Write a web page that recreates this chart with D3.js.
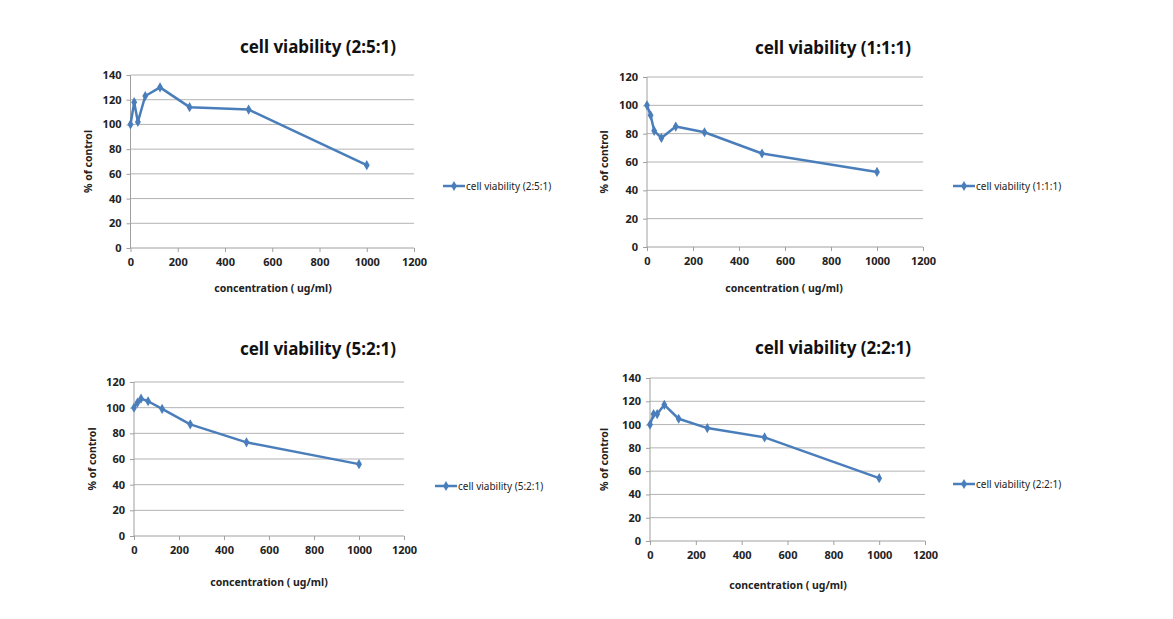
<!DOCTYPE html>
<html><head><meta charset="utf-8">
<script src="https://cdn.jsdelivr.net/npm/d3@7"></script>
<style>body{margin:0;background:#fff}svg{display:block}text{font-family:"Malgun Gothic","Noto Sans","DejaVu Sans",sans-serif}</style>
</head><body>
<script>
const concentrations = [0, 15.6, 31.25, 62.5, 125, 250, 500, 1000];
const xTicks = [0, 200, 400, 600, 800, 1000, 1200];
const titles = ["cell viability (2:5:1)", "cell viability (1:1:1)", "cell viability (5:2:1)", "cell viability (2:2:1)"];
const values_251 = [100, 118, 102, 123, 130, 114, 112, 67];
const values_111 = [100, 93, 82, 77, 85, 81, 66, 53];
const values_521 = [100, 104, 107, 105, 99, 87, 73, 56];
const values_221 = [100, 109, 109, 117, 105, 97, 89, 54];
const yMax = [140, 120, 120, 140];
const xLabel = "concentration ( ug/ml)";
const yLabel = "% of control";

const series = [values_251, values_111, values_521, values_221];
const layout = [
  {x0:130.5, x1:414, y0:248, y1:75, tx:318, ty:53, lx:443, ly:186, xlx:273, xly:292, ylx:92},
  {x0:647, x1:923, y0:247, y1:77, tx:833, ty:54, lx:953, ly:186, xlx:784, xly:292, ylx:608},
  {x0:134, x1:404, y0:536, y1:382, tx:318, ty:355, lx:435, ly:486, xlx:269, xly:586, ylx:96},
  {x0:650, x1:925, y0:541, y1:378, tx:833, ty:354, lx:953, ly:484, xlx:788, xly:589, ylx:608}
];

const W = 1173, H = 619;
const svg = d3.select("body").append("svg").attr("width", W).attr("height", H);

const color = "#4a7ebb";
const diamond = d3.symbol().type(d3.symbolDiamond).size(30);

series.forEach((vals, i) => {
  const L = layout[i];
  const g = svg.append("g");
  const x = d3.scaleLinear().domain([0, 1200]).range([L.x0, L.x1]);
  const y = d3.scaleLinear().domain([0, yMax[i]]).range([L.y0, L.y1]);
  const yTicks = d3.range(0, yMax[i] + 1, 20);

  g.selectAll(".grid").data(yTicks.filter(t => t > 0)).join("line")
    .attr("x1", L.x0).attr("x2", L.x1)
    .attr("y1", d => y(d)).attr("y2", d => y(d))
    .attr("stroke", "#b3b3b3").attr("stroke-width", 1);

  const xAxis = g.append("g").attr("transform", `translate(0,${L.y0})`)
    .call(d3.axisBottom(x).tickValues(xTicks).tickFormat(d3.format("d")).tickSize(4).tickPadding(6));
  const yAxis = g.append("g").attr("transform", `translate(${L.x0},0)`)
    .call(d3.axisLeft(y).tickValues(yTicks).tickFormat(d3.format("d")).tickSize(4).tickPadding(5));
  [xAxis, yAxis].forEach(a => {
    a.select(".domain").attr("stroke", "#a0a0a0");
    a.selectAll(".tick line").attr("stroke", "#a0a0a0");
    a.selectAll(".tick text").attr("font-size", 11).attr("font-weight", "bold").attr("fill", "#222");
  });
  xAxis.select(".domain").attr("d", `M${L.x0},0H${L.x1}`);
  yAxis.select(".domain").attr("d", `M0,${L.y0}V${L.y1}`);

  const line = d3.line().x((d, j) => x(concentrations[j])).y(d => y(d));
  g.append("path").datum(vals).attr("d", line)
    .attr("fill", "none").attr("stroke", color).attr("stroke-width", 2.5).attr("stroke-linejoin", "round");
  g.selectAll(".pt").data(vals).join("path")
    .attr("transform", (d, j) => `translate(${x(concentrations[j])},${y(d)})`)
    .attr("d", diamond).attr("fill", color);

  g.append("text").attr("x", L.tx).attr("y", L.ty).attr("text-anchor", "middle")
    .attr("font-size", 17).attr("font-weight", "bold").attr("fill", "#111").text(titles[i]);
  g.append("text").attr("x", L.xlx).attr("y", L.xly).attr("text-anchor", "middle")
    .attr("font-size", 10.5).attr("font-weight", "bold").attr("fill", "#222").text(xLabel);
  g.append("text").attr("transform", `translate(${L.ylx},${(L.y0 + L.y1) / 2}) rotate(-90)`)
    .attr("text-anchor", "middle").attr("font-size", 10.5).attr("font-weight", "bold").attr("fill", "#222").text(yLabel);

  g.append("line").attr("x1", L.lx).attr("x2", L.lx + 22).attr("y1", L.ly).attr("y2", L.ly)
    .attr("stroke", color).attr("stroke-width", 2.5);
  g.append("path").attr("transform", `translate(${L.lx + 11},${L.ly})`).attr("d", diamond).attr("fill", color);
  g.append("text").attr("x", L.lx + 23).attr("y", L.ly + 3.5).attr("font-size", 10).attr("fill", "#222").text(titles[i]);
});
</script>
</body></html>
